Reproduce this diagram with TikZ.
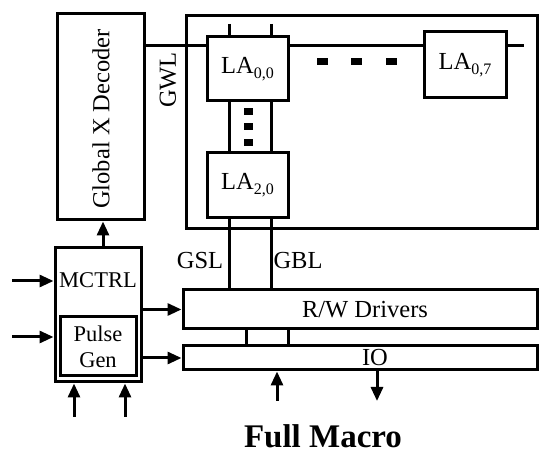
\documentclass[tikz,border=0pt]{standalone}
\usepackage{fontspec}
\setmainfont{Liberation Serif}
\usetikzlibrary{arrows.meta}
\newcommand{\lasub}[1]{LA\raisebox{-5pt}{\fontsize{16}{16}\selectfont #1}}
\begin{document}
\begin{tikzpicture}[x=1pt,y=-1pt,
 blk/.style={draw, line width=3pt, inner sep=0pt, font=\fontsize{24.5}{27}\selectfont},
 lbl/.style={inner sep=0pt, font=\fontsize{24.5}{27}\selectfont},
 wire/.style={line width=3pt},
 arw/.style={line width=3pt, -{Triangle[length=14pt,width=12pt]}},
 sq/.style={fill, inner sep=0pt, minimum width=#1, minimum height=7pt},
 sq/.default=9pt]
\useasboundingbox (0,0) rectangle (550,457);
% blocks
\node[blk, minimum width=87, minimum height=206] (dec) at (100.5,117) {};
\node[lbl, rotate=90] (decT) at (101,119) {Global X Decoder};
\node[blk, minimum width=351, minimum height=213] (arr) at (361.5,122.5) {};
\node[blk, minimum width=81, minimum height=64] (LA00) at (247.5,69) {\lasub{0,0}};
\node[blk, minimum width=81, minimum height=65] (LA20) at (247.5,185.5) {\lasub{2,0}};
\node[blk, minimum width=82, minimum height=66] (LA07) at (465,65) {\lasub{0,7}};
\node[blk, minimum width=86, minimum height=134] (mc) at (98,315) {};
\node[lbl, font=\fontsize{22.5}{26}\selectfont] (mcT) at (98,280) {MCTRL};
\node[blk, minimum width=76, minimum height=59, align=center, font=\fontsize{22.5}{26}\selectfont] (pg) at (98,346.5) {Pulse\\Gen};
\node[blk, minimum width=354, minimum height=39] (rw) at (360,309.5) {};
\node[lbl] (rwT) at (365,310) {R/W Drivers};
\node[blk, minimum width=354, minimum height=24] (io) at (360,358) {};
\node[lbl] (ioT) at (375,358) {IO};
% labels
\node[lbl, rotate=90] (gwl) at (168,80) {GWL};
\node[lbl] (gsl) at (200,261) {GSL};
\node[lbl] (gbl) at (298,261) {GBL};
\node[inner sep=0pt, font=\fontsize{33}{36}\selectfont\bfseries] (title) at (323,436) {Full Macro};
% dots
\node[sq] (v1) at (248,112) {};
\node[sq] (v2) at (248,127) {};
\node[sq] (v3) at (248,143) {};
\node[sq=11pt] (h1) at (322,62) {};
\node[sq=11pt] (h2) at (356,62) {};
\node[sq=11pt] (h3) at (391,62) {};
% coordinates
\coordinate (gwE) at (524,46);
\coordinate (gslT) at (229,24);
\coordinate (gblT) at (271,24);
\coordinate (c1) at (246,338);
\coordinate (c2) at (288,338);
\coordinate (in1) at (12,281);
\coordinate (in2) at (12,337);
\coordinate (b1) at (74,417);
\coordinate (b2) at (125,417);
\coordinate (ioi) at (277,401);
\coordinate (ioo) at (377,401);
% GWL
\draw[wire] (gwE -| dec.east) -- (gwE -| LA00.west);
\draw[wire] (gwE -| LA00.east) -- (gwE -| LA07.west);
\draw[wire] (gwE -| LA07.east) -- (gwE);
% GSL / GBL
\foreach \c in {gslT,gblT}{
  \draw[wire] (\c) -- (\c |- LA00.north);
  \draw[wire] (\c |- LA00.south) -- (\c |- LA20.north);
  \draw[wire] (\c |- LA20.south) -- (\c |- rw.north);
}
% RW-IO links
\draw[wire] (c1 |- rw.south) -- (c1 |- io.north);
\draw[wire] (c2 |- rw.south) -- (c2 |- io.north);
% arrows
\draw[arw] ([xshift=5pt]mc.north) -- ([xshift=5pt]mc.north |- dec.south);
\draw[arw] (in1) -- (in1 -| mc.west);
\draw[arw] (in2) -- (in2 -| mc.west);
\draw[arw] (b1) -- (b1 |- mc.south);
\draw[arw] (b2) -- (b2 |- mc.south);
\draw[arw] (mc.east |- rw.west) -- (rw.west);
\draw[arw] (mc.east |- io.west) -- (io.west);
\draw[arw] (ioi) -- (ioi |- io.south);
\draw[arw] (ioo |- io.south) -- (ioo);
\end{tikzpicture}
\end{document}
